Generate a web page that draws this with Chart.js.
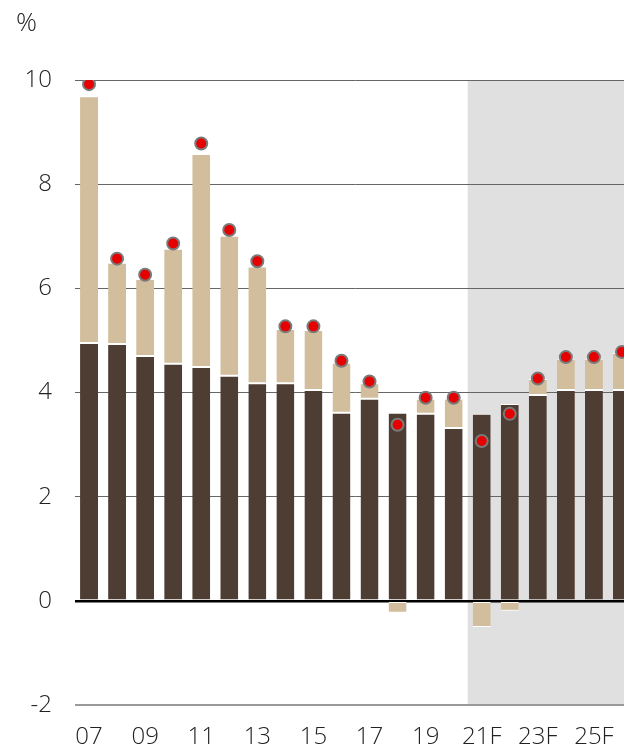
<!DOCTYPE html>
<html>
<head>
<meta charset="utf-8">
<script src="https://cdn.jsdelivr.net/npm/chart.js@4"></script>
<style>
  html, body { margin: 0; padding: 0; background: #fff; overflow: hidden; }
  #wrap { position: relative; width: 624px; height: 750px; overflow: hidden; }
  #box { position: absolute; left: 0; top: 0; width: 644px; height: 750px; }
  #unit {
    position: absolute; left: 16px; top: 3px;
    font: 300 26px "Open Sans", sans-serif; color: #222;
  }
</style>
</head>
<body>
<div id="wrap">
  <div id="box"><canvas id="chart"></canvas></div>
  <div id="unit">%</div>
</div>
<script>
// ===== DATA =====
const years = ["07", "08", "09", "10", "11", "12", "13", "14", "15", "16",
  "17", "18", "19", "20", "21F", "22F", "23F", "24F", "25F", "26F"];

// dark base part
const baseValues = [4.95, 4.93, 4.70, 4.55, 4.49, 4.32, 4.18, 4.18, 4.05, 3.61,
  3.88, 3.61, 3.59, 3.32, 3.59, 3.78, 3.95, 4.05, 4.05, 4.05];

// light top part (negative ones hang under zero)
const topValues = [4.74, 1.56, 1.48, 2.21, 4.09, 2.69, 2.24, 1.04, 1.15, 0.96,
  0.30, -0.23, 0.29, 0.56, -0.50, -0.19, 0.31, 0.60, 0.60, 0.71];

// red dots: total
const totalValues = [9.92, 6.57, 6.26, 6.86, 8.78, 7.12, 6.52, 5.27, 5.27, 4.61,
  4.21, 3.38, 3.90, 3.90, 3.07, 3.59, 4.27, 4.68, 4.68, 4.78];

const yTicks = [-2, 0, 2, 4, 6, 8, 10];
const forecastStart = "21F";

const FONT = "'Open Sans', sans-serif";

// grey background behind forecast years
const forecastShade = {
  id: "forecastShade",
  beforeDraw(chart) {
    const { ctx, chartArea, scales } = chart;
    const x = scales.x;
    const i = years.indexOf(forecastStart);
    const half = (x.getPixelForValue(1) - x.getPixelForValue(0)) / 2;
    const left = x.getPixelForValue(i) - half;
    ctx.save();
    ctx.fillStyle = "#e0e0e0";
    ctx.fillRect(left, chartArea.top, chartArea.right - left, chartArea.bottom - chartArea.top);
    ctx.restore();
  }
};

new Chart(document.getElementById("chart").getContext("2d"), {
  type: "bar",
  data: {
    labels: years,
    datasets: [
      {
        type: "line",
        label: "Total",
        data: totalValues,
        stack: "dots",
        showLine: false,
        pointRadius: 6,
        pointBorderWidth: 2,
        pointBackgroundColor: "#e60000",
        pointBorderColor: "#7a7a7a",
        order: 0
      },
      {
        label: "Base",
        data: baseValues,
        stack: "bars",
        backgroundColor: "#4e3d32",
        borderColor: "#ffffff",
        borderWidth: { top: 1 },
        borderSkipped: false,
        barPercentage: 0.64,
        categoryPercentage: 1,
        order: 1
      },
      {
        label: "Top",
        data: topValues,
        stack: "bars",
        backgroundColor: "#d2be9c",
        borderColor: "#ffffff",
        borderWidth: { top: 1, bottom: 1 },
        borderSkipped: false,
        barPercentage: 0.64,
        categoryPercentage: 1,
        order: 2
      }
    ]
  },
  options: {
    responsive: true,
    maintainAspectRatio: false,
    animation: false,
    layout: { padding: { top: 80, right: 1, left: 0, bottom: 0 } },
    plugins: {
      legend: { display: false },
      tooltip: { enabled: false }
    },
    scales: {
      x: {
        stacked: true,
        afterFit: (scale) => { scale.height = 45; },
        grid: { display: false },
        border: { display: false },
        ticks: {
          autoSkip: false,
          maxRotation: 0,
          padding: 10,
          color: "#222",
          font: { family: FONT, size: 24, weight: 300 },
          callback: (v, i) => (i % 2 === 0 ? years[i] : "")
        }
      },
      y: {
        stacked: true,
        min: -2,
        max: 10,
        afterFit: (scale) => { scale.width = 75; },
        afterBuildTicks: (scale) => { scale.ticks = yTicks.map(v => ({ value: v })); },
        border: { display: false },
        grid: {
          drawTicks: false,
          color: (c) => c.tick.value === 0 ? "#000" : c.tick.value === -2 ? "#9a9a9a" : "#666",
          lineWidth: (c) => c.tick.value === 0 ? 2.5 : c.tick.value === -2 ? 2 : 1
        },
        ticks: {
          padding: 23,
          color: "#222",
          font: { family: FONT, size: 24, weight: 300 }
        }
      }
    }
  },
  plugins: [forecastShade]
});
</script>
</body>
</html>
